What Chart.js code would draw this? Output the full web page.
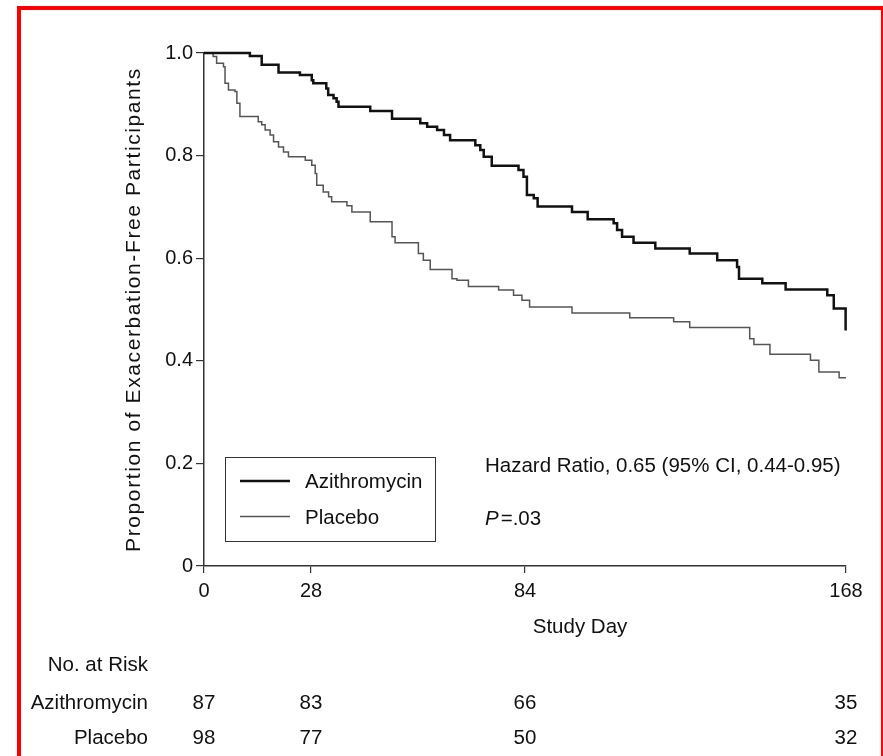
<!DOCTYPE html>
<html>
<head>
<meta charset="utf-8">
<script src="https://cdn.jsdelivr.net/npm/chart.js@4.4.1/dist/chart.umd.min.js"></script>
<style>
  html, body { margin: 0; padding: 0; background: #fff; overflow: hidden; }
  #wrap { position: relative; width: 883px; height: 756px; }
  #frame {
    position: absolute; left: 17px; top: 6px; width: 868px; height: 800px;
    box-sizing: border-box; border: 4px solid #ff0000; border-bottom: none;
    pointer-events: none;
  }
</style>
</head>
<body>
<div id="wrap">
  <canvas id="km" width="883" height="756"></canvas>
  <div id="frame"></div>
</div>
<script>
// Kaplan-Meier steps (day of event, proportion after the event)
const azDays = [0, 12.0, 15.1, 19.5, 25.1, 28.2, 28.6, 32.0, 32.5, 33.9, 34.7, 35.2, 43.5, 49.2, 56.6, 58.4, 61.0, 62.8, 64.4, 71.0, 72.3, 73.2, 75.3, 82.3, 83.6, 84.5, 86.3, 87.3, 96.3, 100.4, 107.2, 108.1, 109.4, 112.4, 118.1, 127.1, 134.3, 139.5, 140.0, 146.1, 152.2, 163.1, 164.8, 167.9];
const azSurv = [1.0, 0.994, 0.977, 0.962, 0.957, 0.947, 0.941, 0.931, 0.918, 0.912, 0.905, 0.895, 0.887, 0.872, 0.863, 0.856, 0.850, 0.840, 0.830, 0.820, 0.811, 0.798, 0.780, 0.772, 0.759, 0.723, 0.717, 0.701, 0.690, 0.676, 0.668, 0.655, 0.642, 0.630, 0.619, 0.609, 0.596, 0.583, 0.560, 0.551, 0.539, 0.528, 0.502, 0.459];

const plDays = [0, 2.4, 3.3, 5.1, 5.5, 6.4, 8.1, 8.6, 9.4, 14.2, 15.1, 16.0, 17.3, 18.2, 19.5, 20.8, 22.1, 26.5, 28.2, 29.1, 29.5, 31.2, 32.6, 33.4, 37.4, 38.7, 43.5, 49.2, 50.0, 56.1, 57.4, 59.2, 64.9, 66.2, 69.2, 77.1, 81.0, 83.2, 85.2, 96.3, 111.4, 122.9, 127.1, 142.8, 143.9, 148.1, 158.7, 160.9, 166.2, 168.0];
const plSurv = [1.0, 0.993, 0.980, 0.973, 0.941, 0.928, 0.925, 0.902, 0.876, 0.866, 0.860, 0.850, 0.840, 0.827, 0.817, 0.807, 0.798, 0.791, 0.781, 0.765, 0.742, 0.729, 0.720, 0.710, 0.702, 0.690, 0.671, 0.642, 0.630, 0.609, 0.596, 0.578, 0.560, 0.557, 0.545, 0.538, 0.528, 0.518, 0.505, 0.493, 0.484, 0.476, 0.465, 0.443, 0.432, 0.413, 0.401, 0.378, 0.367, 0.367];

const xTicks = [0, 28, 84, 168];
const yTicks = [0, 0.2, 0.4, 0.6, 0.8, 1.0];

const riskDays = [0, 28, 84, 168];
const azRisk = [87, 83, 66, 35];
const plRisk = [98, 77, 50, 32];

const FONT = '"Liberation Sans", Arial, Helvetica, sans-serif';
const INK = '#111';

function toPoints(days, vals) {
  return days.map((d, i) => ({ x: d, y: vals[i] }));
}

const extras = {
  id: 'extras',
  afterDraw(chart) {
    const ctx = chart.ctx;
    const xs = chart.scales.x;
    const area = chart.chartArea;
    ctx.save();
    ctx.fillStyle = INK;
    ctx.font = '20.5px ' + FONT;

    // y axis title
    ctx.save();
    ctx.translate(134, (area.top + area.bottom) / 2);
    ctx.rotate(-Math.PI / 2);
    ctx.textAlign = 'center';
    ctx.textBaseline = 'middle';
    ctx.font = '21px ' + FONT;
    ctx.letterSpacing = '1.6px';
    ctx.fillText('Proportion of Exacerbation-Free Participants', 0, 0);
    ctx.restore();

    // x axis title
    ctx.textAlign = 'center';
    ctx.textBaseline = 'middle';
    ctx.fillText('Study Day', 580, 627);

    // legend box
    ctx.strokeStyle = '#333';
    ctx.lineWidth = 1;
    ctx.strokeRect(225.5, 457.5, 210, 84);
    ctx.beginPath();
    ctx.strokeStyle = '#111';
    ctx.lineWidth = 2.5;
    ctx.moveTo(240, 481); ctx.lineTo(290, 481);
    ctx.stroke();
    ctx.beginPath();
    ctx.strokeStyle = '#555';
    ctx.lineWidth = 1.5;
    ctx.moveTo(240, 516.5); ctx.lineTo(290, 516.5);
    ctx.stroke();
    ctx.textAlign = 'left';
    ctx.fillText('Azithromycin', 305, 482);
    ctx.fillText('Placebo', 305, 518);

    // statistics
    ctx.fillText('Hazard Ratio, 0.65 (95% CI, 0.44-0.95)', 485, 466);
    ctx.font = 'italic 20.5px ' + FONT;
    ctx.fillText('P', 485, 519);
    const pw = ctx.measureText('P').width;
    ctx.font = '20.5px ' + FONT;
    ctx.fillText('=.03', 485 + pw + 2, 519);

    // number at risk table
    ctx.textAlign = 'right';
    ctx.fillText('No. at Risk', 148, 665);
    ctx.fillText('Azithromycin', 148, 703);
    ctx.fillText('Placebo', 148, 738);
    ctx.textAlign = 'center';
    riskDays.forEach((d, i) => {
      const px = xs.getPixelForValue(d);
      ctx.fillText(String(azRisk[i]), px, 703);
      ctx.fillText(String(plRisk[i]), px, 738);
    });
    ctx.restore();
  }
};

new Chart(document.getElementById('km'), {
  type: 'line',
  data: {
    datasets: [
      {
        label: 'Azithromycin',
        data: toPoints(azDays, azSurv),
        borderColor: '#111',
        borderWidth: 2.5,
        stepped: true,
        pointRadius: 0,
        fill: false,
        clip: false,
      },
      {
        label: 'Placebo',
        data: toPoints(plDays, plSurv),
        borderColor: '#555',
        borderWidth: 1.5,
        stepped: true,
        pointRadius: 0,
        fill: false,
        clip: false,
      }
    ]
  },
  options: {
    responsive: false,
    animation: false,
    events: [],
    layout: { padding: { left: 104, right: 37, top: 53, bottom: 150 } },
    plugins: { legend: { display: false }, tooltip: { enabled: false } },
    scales: {
      x: {
        type: 'linear',
        min: 0,
        max: 168,
        afterBuildTicks: s => { s.ticks = xTicks.map(v => ({ value: v })); },
        afterFit: s => { s.height = 40; },
        grid: { display: true, drawOnChartArea: false, drawTicks: true, tickLength: 7, color: '#333', lineWidth: 1.2 },
        border: { display: true, color: '#333', width: 1.5 },
        ticks: { color: INK, font: { family: FONT, size: 20 }, padding: 6, maxRotation: 0 }
      },
      y: {
        type: 'linear',
        min: 0,
        max: 1,
        afterBuildTicks: s => { s.ticks = yTicks.map(v => ({ value: v })); },
        afterFit: s => { s.width = 100; },
        grid: { display: true, drawOnChartArea: false, drawTicks: true, tickLength: 8, color: '#333', lineWidth: 1.2 },
        border: { display: true, color: '#333', width: 1.5 },
        ticks: {
          color: INK, font: { family: FONT, size: 20 }, padding: 3,
          callback: v => v === 0 ? '0' : v.toFixed(1)
        }
      }
    }
  },
  plugins: [extras]
});
</script>
</body>
</html>
